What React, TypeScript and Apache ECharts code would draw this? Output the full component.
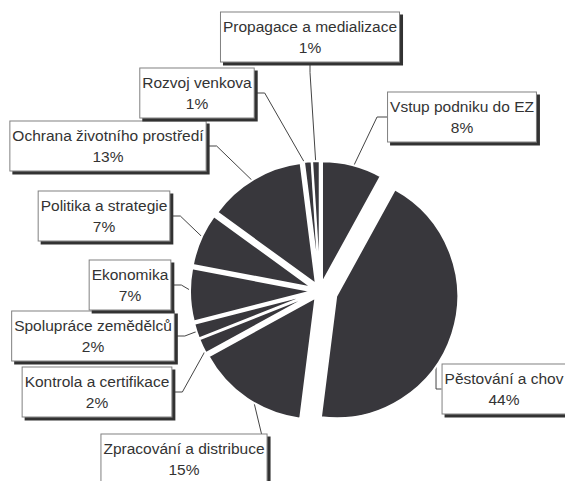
import React, { useEffect, useRef } from "react";
import * as echarts from "echarts";

const categories = [
  "Vstup podniku do EZ",
  "Pěstování a chov",
  "Zpracování a distribuce",
  "Kontrola a certifikace",
  "Spolupráce zemědělců",
  "Ekonomika",
  "Politika a strategie",
  "Ochrana životního prostředí",
  "Rozvoj venkova",
  "Propagace a medializace",
];
const shares = [8, 44, 15, 2, 2, 7, 7, 13, 1, 1];
// slice pulled further out of the pie
const explodedIndex = 1;

// label box centres (layout only)
const labelCenters: [number, number][] = [
  [462, 117],
  [504, 389],
  [184, 459],
  [97, 392],
  [93, 336],
  [130, 285],
  [104, 216],
  [108, 146],
  [197, 93],
  [310, 37],
];

const CENTER = [320, 291];
const RADIUS = 122;
const SLICE_COLOR = "#38373c";
const HIDDEN = { color: "rgba(0,0,0,0)", borderWidth: 0 };

function sliceSeries(offset: number, visible: (i: number) => boolean) {
  return {
    type: "pie",
    center: CENTER,
    radius: RADIUS,
    startAngle: 90,
    clockwise: true,
    silent: true,
    selectedMode: "multiple",
    selectedOffset: offset,
    label: { show: false },
    labelLine: { show: false },
    itemStyle: { color: SLICE_COLOR, borderColor: "#ffffff", borderWidth: 2 },
    data: categories.map((name, i) => ({
      name,
      value: shares[i],
      selected: true,
      ...(visible(i) ? {} : { itemStyle: HIDDEN }),
    })),
  };
}

export default function App() {
  const ref = useRef<HTMLDivElement>(null);
  useEffect(() => {
    document.body.style.margin = "0";
    const chart = echarts.init(ref.current!, null, { renderer: "svg" });
    chart.setOption({
      animation: false,
      backgroundColor: "#ffffff",
      series: [
        sliceSeries(8, (i) => i !== explodedIndex),
        sliceSeries(17, (i) => i === explodedIndex),
        {
          type: "pie",
          center: CENTER,
          radius: RADIUS,
          startAngle: 90,
          clockwise: true,
          silent: true,
          avoidLabelOverlap: false,
          percentPrecision: 0,
          itemStyle: HIDDEN,
          label: {
            show: true,
            formatter: "{b}\n{d}%",
            fontFamily: "Liberation Sans, Arial, sans-serif",
            fontSize: 15.5,
            lineHeight: 21,
            color: "#333333",
            align: "center",
            backgroundColor: "#ffffff",
            borderColor: "#808080",
            borderWidth: 1,
            padding: [4, 2, 3, 2],
            shadowColor: "#333333",
            shadowBlur: 0,
            shadowOffsetX: 3,
            shadowOffsetY: 3,
          },
          labelLine: {
            show: true,
            length: 16,
            length2: 10,
            lineStyle: { color: "#444444", width: 1 },
          },
          labelLayout: (params: any) => {
            const p = labelCenters[params.dataIndex];
            return { x: p[0], y: p[1], align: "center", verticalAlign: "middle" };
          },
          data: categories.map((name, i) => ({ name, value: shares[i] })),
        },
      ],
    });
    return () => chart.dispose();
  }, []);
  return <div ref={ref} style={{ width: 565, height: 481 }} />;
}
